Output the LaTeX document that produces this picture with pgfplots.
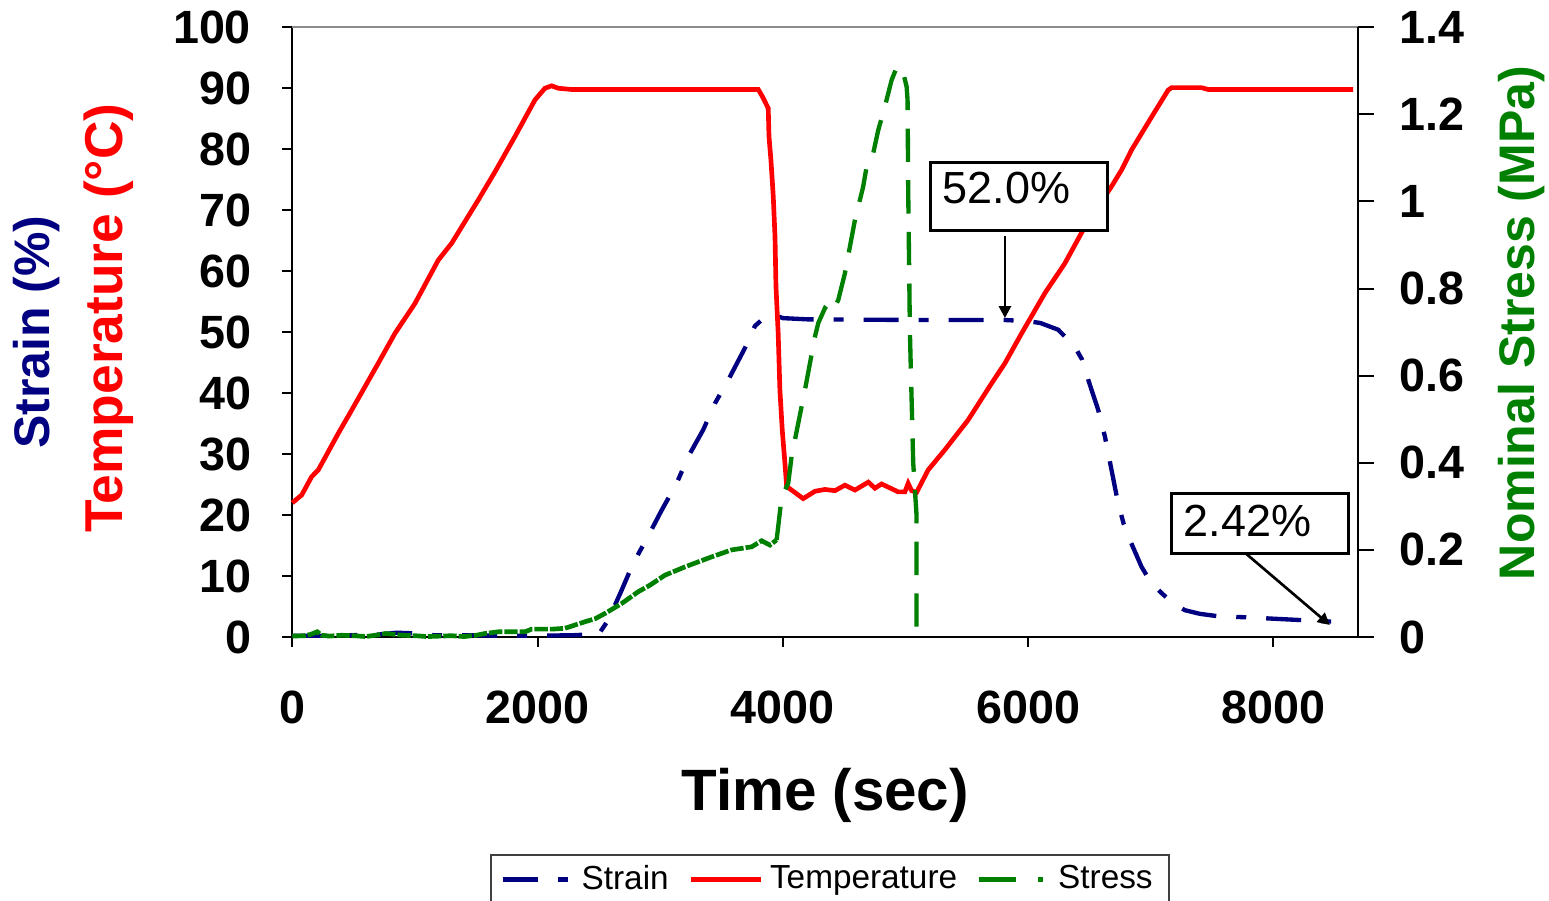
\documentclass[border=0pt]{standalone}
\usepackage{fontspec}
\setmainfont{Liberation Sans}
\usepackage{pgfplots}
\pgfplotsset{compat=1.18}
\usetikzlibrary{arrows.meta}

\definecolor{strainblue}{RGB}{0,0,128}
\definecolor{tempred}{RGB}{255,0,0}
\definecolor{stressgreen}{RGB}{0,128,0}

\tikzset{
  strainline/.style={color=strainblue, line width=1.3pt, dash pattern=on 10.5pt off 6pt on 3pt off 6pt},
  templine/.style={color=tempred, line width=1.4pt},
  stresslow/.style={color=stressgreen, line width=1.4pt, dash pattern=on 4pt off 0.6pt},
  stresshigh/.style={color=stressgreen, line width=1.3pt, dash pattern=on 10pt off 5.5pt},
  stresslegend/.style={color=stressgreen, line width=1.3pt, dash pattern=on 11pt off 6.5pt on 1.5pt off 6pt},
}

\begin{document}
\begin{tikzpicture}
\useasboundingbox (-87.69pt,-78.9pt) rectangle (377.01pt,191.1pt);

% left axis: strain and temperature
\begin{axis}[
  at={(0pt,0pt)}, anchor=south west,
  scale only axis, width=319.71pt, height=182.91pt,
  xmin=0, xmax=8690, ymin=0, ymax=100,
  axis x line*=bottom, axis y line*=left,
  axis line style={black, line width=0.7pt},
  tick align=outside, major tick length=3pt,
  tick style={black, line width=0.6pt},
  xtick={0,2000,4000,6000,8000}, ytick={0,10,...,100},
  scaled x ticks=false,
  /pgf/number format/1000 sep={},
  /pgf/number format/assume math mode=true,
  ticklabel style={font=\bfseries\fontsize{14}{16}\selectfont, inner sep=0pt},
  yticklabel style={xshift=-9.2pt},
  xticklabel style={yshift=-12.9pt},
  clip=false,
]
\addplot[strainline] coordinates {
  (0,0.2)(250,0.2)(500,0.3)(700,0.4)(850,0.7)(1000,0.6)(1150,0.3)(1400,0.3)
  (1700,0.2)(2000,0.2)(2300,0.3)(2500,0.5)(2577,2.8)(2686,7.7)(2780,12.1)
  (2903,16.6)(3012,20.8)(3134,25.2)(3229,29.6)(3351,34.0)(3446,38.3)(3569,42.7)
  (3691,47.4)(3772,51.0)(3850,52.4)(3950,52.7)(4000,52.3)(4200,52.1)(5000,52.0)
  (5800,52.0)(6000,51.8)(6100,51.5)(6245,50.4)(6381,47.6)(6440,45.5)(6490,42.2)
  (6572,37.2)(6626,32.9)(6680,27.4)(6734,21.9)(6780,18.5)(6830,15.9)(6925,11.5)
  (7000,9.0)(7088,7.2)(7180,5.6)(7278,4.4)(7400,3.8)(7550,3.4)(7822,3.2)
  (8000,3.0)(8200,2.8)(8400,2.6)(8590,2.42)
};
\addplot[templine] coordinates {
  (0,22.0)(77,23.3)(158,26.3)(212,27.4)(375,33.4)(484,37.2)(701,44.9)(837,49.8)
  (1000,54.7)(1190,61.8)(1300,64.6)(1517,71.7)(1653,76.3)(1816,82.1)(1979,88.1)
  (2060,90.0)(2115,90.4)(2169,90.0)(2278,89.8)(3800,89.8)(3840,88.4)(3881,86.7)
  (3887,82.1)(3903,78.2)(3922,72.2)(3936,65.7)(3944,57.5)(3962,49.8)(3976,40.5)
  (3995,34.0)(4017,28.5)(4031,24.7)(4071,24.1)(4166,22.7)(4262,23.9)(4343,24.2)
  (4425,24.0)(4506,24.9)(4588,24.1)(4697,25.4)(4751,24.4)(4805,25.1)(4941,23.8)
  (4995,23.8)(5022,25.2)(5050,24.0)(5090,23.7)(5185,27.4)(5321,30.7)(5511,35.6)
  (5702,41.6)(5811,44.9)(5947,49.8)(6137,56.4)(6300,61.3)(6463,67.3)(6680,73.9)
  (6762,76.6)(6844,79.9)(7007,85.3)(7142,89.7)(7170,90.1)(7414,90.1)(7468,89.8)
  (8650,89.8)
};

% callouts
\draw[black, line width=0.9pt, fill=white] (axis cs:5207,77.9) rectangle (axis cs:6650,66.75);
\node[anchor=west, inner sep=0pt, font=\fontsize{13.5}{15}\selectfont] at (axis cs:5300,73.6) {52.0\%};
\draw[black, line width=0.8pt, -{Triangle[width=3.6pt,length=3.6pt]}] (axis cs:5811,65.8) -- (axis cs:5811,52.3);

\draw[black, line width=0.9pt, fill=white] (axis cs:7170,23.57) rectangle (axis cs:8610,13.73);
\node[anchor=west, inner sep=0pt, font=\fontsize{13.5}{15}\selectfont] at (axis cs:7264,19.06) {2.42\%};
\draw[black, line width=0.8pt, -{Triangle[width=3.6pt,length=3.6pt]}] (axis cs:7781,13.6) -- (axis cs:8460,1.97);

% axis titles
\node[rotate=90, text=strainblue, font=\bfseries\fontsize{15}{17}\selectfont] at (rel axis cs:-0.2396,0.500) {Strain (\%)};
\node[rotate=90, text=tempred, font=\bfseries\fontsize{16}{18}\selectfont] at (rel axis cs:-0.172,0.523) {Temperature (°C)};
\node[anchor=north, inner sep=0pt, yshift=-39.3pt, font=\bfseries\fontsize{17.5}{20}\selectfont] at (rel axis cs:0.5,0) {Time (sec)};
\end{axis}

% right axis: stress
\begin{axis}[
  at={(0pt,0pt)}, anchor=south west,
  scale only axis, width=319.71pt, height=182.91pt,
  xmin=0, xmax=8690, ymin=0, ymax=1.4,
  axis x line*=top, axis y line*=right,
  x axis line style={black!45, line width=0.7pt},
  y axis line style={black, line width=0.7pt},
  xtick=\empty, ytick={0,0.2,0.4,0.6,0.8,1,1.2,1.4},
  tick align=outside, major tick length=4.8pt,
  tick style={black, line width=0.6pt},
  /pgf/number format/assume math mode=true,
  ticklabel style={font=\bfseries\fontsize{14}{16}\selectfont, inner sep=0pt},
  yticklabel style={xshift=7.5pt},
  clip=false,
  legend columns=3,
  legend cell align=left,
  legend image code/.code={\draw[#1] (0pt,0pt) -- (21pt,0pt);},
  legend style={at={(0.5045,-0.356)}, anchor=north, draw=black!75, line width=0.6pt,
    font=\fontsize{10}{12}\selectfont, inner xsep=3pt, inner ysep=1pt,
    /tikz/every even column/.append style={column sep=4pt}},
]
\addlegendimage{strainline}
\addlegendentry{Strain}
\addlegendimage{templine}
\addlegendentry{Temperature}
\addlegendimage{stresslegend}
\addlegendentry{Stress}

\addplot[stresslow, forget plot] coordinates {
  (0,0.002)(100,0.003)(150,0.006)(203,0.012)(240,0.004)(300,0.002)(400,0.004)
  (500,0.003)(600,0.001)(700,0.005)(760,0.008)(830,0.006)(900,0.004)(1000,0.003)
  (1100,0.001)(1200,0.002)(1300,0.003)(1400,0.001)(1500,0.004)(1571,0.008)
  (1680,0.012)(1897,0.012)(1952,0.018)(2115,0.018)(2223,0.020)(2278,0.025)
  (2386,0.035)(2470,0.042)(2549,0.054)(2686,0.077)(2821,0.104)(2916,0.119)
  (3039,0.142)(3202,0.161)(3419,0.184)(3582,0.200)(3745,0.207)(3827,0.221)
  (3895,0.211)(3949,0.223)
};
\addplot[stresshigh, forget plot] coordinates {
  (3949,0.223)(3962,0.253)(3990,0.322)(4044,0.353)(4071,0.414)(4125,0.490)
  (4180,0.567)(4262,0.690)(4289,0.721)(4343,0.755)(4398,0.743)(4452,0.774)
  (4506,0.835)(4588,0.958)(4655,1.034)(4683,1.080)(4737,1.111)(4778,1.164)
  (4832,1.218)(4887,1.279)(4933,1.311)(4982,1.295)(5009,1.264)(5017,1.233)
  (5022,1.030)(5036,0.700)(5063,0.400)(5090,0.280)(5090,0.024)
};

\node[rotate=90, text=stressgreen, font=\bfseries\fontsize{15}{17}\selectfont] at (rel axis cs:1.153,0.515) {Nominal Stress (MPa)};
\end{axis}
\end{tikzpicture}
\end{document}
